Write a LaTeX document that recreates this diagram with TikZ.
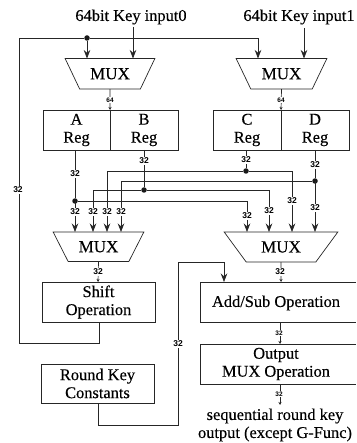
\documentclass[tikz,border=0pt]{standalone}
\usepackage{fontspec}
\setmainfont[FakeBold=0.3]{Liberation Serif}
\newfontfamily\widthfont{Liberation Sans}
\usetikzlibrary{arrows.meta, shapes.geometric}
\tikzset{
  wire/.style={draw=black!85, line width=0.7pt},
  feed/.style={wire, -{Stealth[length=8.5pt, width=6.5pt]}},
  tick/.style={wire, -{Stealth[length=3pt, width=3pt]}},
  dot/.style={circle, fill=black!90, inner sep=0pt, minimum size=5.5pt},
  mux/.style={trapezium, shape border rotate=180, trapezium stretches=true, draw=black!85,
    line width=0.7pt, outer sep=0pt, inner sep=0pt, font=\fontsize{17}{17}\selectfont},
  regbox/.style={rectangle, draw=black!85, line width=0.7pt, outer sep=0pt, inner sep=0pt, align=center,
    font=\fontsize{16.4}{18}\selectfont},
  bus/.style={fill=white, inner sep=0.6pt, font=\widthfont\bfseries\fontsize{8.5}{9}\selectfont},
  smallbus/.style={bus, font=\widthfont\bfseries\fontsize{6.5}{7}\selectfont},
  title/.style={font=\fontsize{16.4}{18}\selectfont, align=center, inner sep=0pt}
}
\begin{document}
\begin{tikzpicture}[x=1pt, y=-1pt]
  \useasboundingbox (0,0) rectangle (356,443);
  % key inputs and the two upper selectors
  \node[title] (keyzero) at (131,17) {64bit Key input0};
  \node[title] (keyone) at (299,17) {64bit Key input1};
  \node[mux, minimum width=90pt, minimum height=30.5pt, trapezium angle=50] (muxa) at (110,73.8) {MUX};
  \node[mux, minimum width=91pt, minimum height=30.5pt, trapezium angle=50] (muxb) at (281.5,73.8) {MUX};
  % registers
  \node[regbox, minimum width=67pt, minimum height=40pt] (rega) at (76.5,130) {A\\Reg};
  \node[regbox, minimum width=68pt, minimum height=40pt] (regb) at (144,130) {B\\Reg};
  \node[regbox, minimum width=68pt, minimum height=40pt] (regc) at (247,130) {C\\Reg};
  \node[regbox, minimum width=68pt, minimum height=40pt] (regd) at (315,130) {D\\Reg};
  % lower selectors and operation blocks
  \node[mux, minimum width=91pt, minimum height=29.5pt, trapezium angle=49] (muxc) at (98.5,246.8) {MUX};
  \node[mux, minimum width=114pt, minimum height=30pt, trapezium angle=42] (muxd) at (281,247) {MUX};
  \node[regbox, minimum width=113pt, minimum height=40pt] (shift) at (98.5,302) {Shift\\Operation};
  \node[regbox, minimum width=113pt, minimum height=39pt] (round) at (97.5,383.5) {Round Key\\Constants};
  \node[regbox, draw=none, minimum width=156pt, minimum height=40pt] (addsub) at (278,302) {};
  \node[regbox, draw=none, minimum width=156pt, minimum height=40pt] (outmux) at (278,364) {};
  \draw[wire] (addsub.north east) -- (addsub.north west) -- (addsub.south west) -- (addsub.south east);
  \draw[wire] (outmux.north east) -- (outmux.north west) -- (outmux.south west) -- (outmux.south east);
  \node[regbox, draw=none] (addtext) at (276,303) {Add/Sub Operation};
  \node[regbox, draw=none] (outtext) at (276,364) {Output\\MUX Operation};
  \node[title] (seqout) at (275,425) {sequential round key\\output (except G-Func)};
  % junctions
  \node[dot] (joina) at (75,201) {};
  \node[dot] (joinb) at (144,190) {};
  \node[dot] (joinc) at (246,171) {};
  \node[dot] (joind) at (315,181) {};
  \node[dot] (joinf) at (87,38) {};
  % feedback loop
  \coordinate (fbbot) at (19,343);
  \coordinate (fbtop) at (19,38);
  \coordinate (fbout) at (99,322);
  \draw[wire] (fbout) -- (fbout |- fbbot) -- (fbbot) -- (fbtop) -- (joinf);
  \draw[feed] (joinf) -- (joinf |- muxa.north);
  \draw[feed] (joinf) -- (258,38) -- (258,58.5);
  \draw[feed] (133,27) -- (133,58.5);
  \draw[feed] (304,28) -- (304,58.5);
  \node[bus] (lbfb) at (18,190) {32};
  % register outputs
  \draw[wire] (75,150) -- (joina);
  \draw[wire] (144,150) -- (joinb);
  \draw[wire] (246,150) -- (joinc);
  \draw[wire] (315,150) -- (joind);
  \foreach \x/\y/\jn in {75/232/joina, 247/232/joina, 93/232/joinb, 269/232/joinb, 107/232/joinc, 292/232/joinc, 121/232/joind, 315/232/joind}
    { \draw[feed] (\jn) -| (\x,\y); }
  % mux to block
  \draw[tick] (muxa.south) -- (110,110);
  \draw[tick] (muxb.south) -- (281,110);
  \draw[tick] (muxc.south) -- (98,282);
  \draw[tick] (muxd.south) -- (281,282);
  \draw[tick] (addsub.south -| 280,0) -- (280,344);
  \draw[tick] (outmux.south -| 280,0) -- (280,405);
  % constants path
  \coordinate (rkbot) at (98,425);
  \coordinate (rkright) at (178,425);
  \coordinate (rktop) at (178,262);
  \coordinate (rkhead) at (224,262);
  \draw[feed] (98,403) -- (rkbot) -- (rkright) -- (rktop) -- (rkhead) -- (224,282);
  \node[bus] (lbrk) at (178,344) {32};
  % bus widths
  \foreach \x/\y/\nm in {75/174/lba, 144/161/lbb, 246/160/lbc, 315/165/lbd, 75/212/lbe, 93/212/lbf, 107/212/lbg, 121/212/lbh, 247/216/lbi, 269/211/lbj, 292/201/lbk, 315/208/lbl, 98/272/lbm, 280/272/lbn}
    { \node[bus] (\nm) at (\x,\y) {32}; }
  \node[smallbus] (lbo) at (110,100) {64};
  \node[smallbus] (lbp) at (281,100) {64};
  \node[smallbus] (lbq) at (279,333) {32};
  \node[smallbus] (lbr) at (279,394) {32};
\end{tikzpicture}
\end{document}
